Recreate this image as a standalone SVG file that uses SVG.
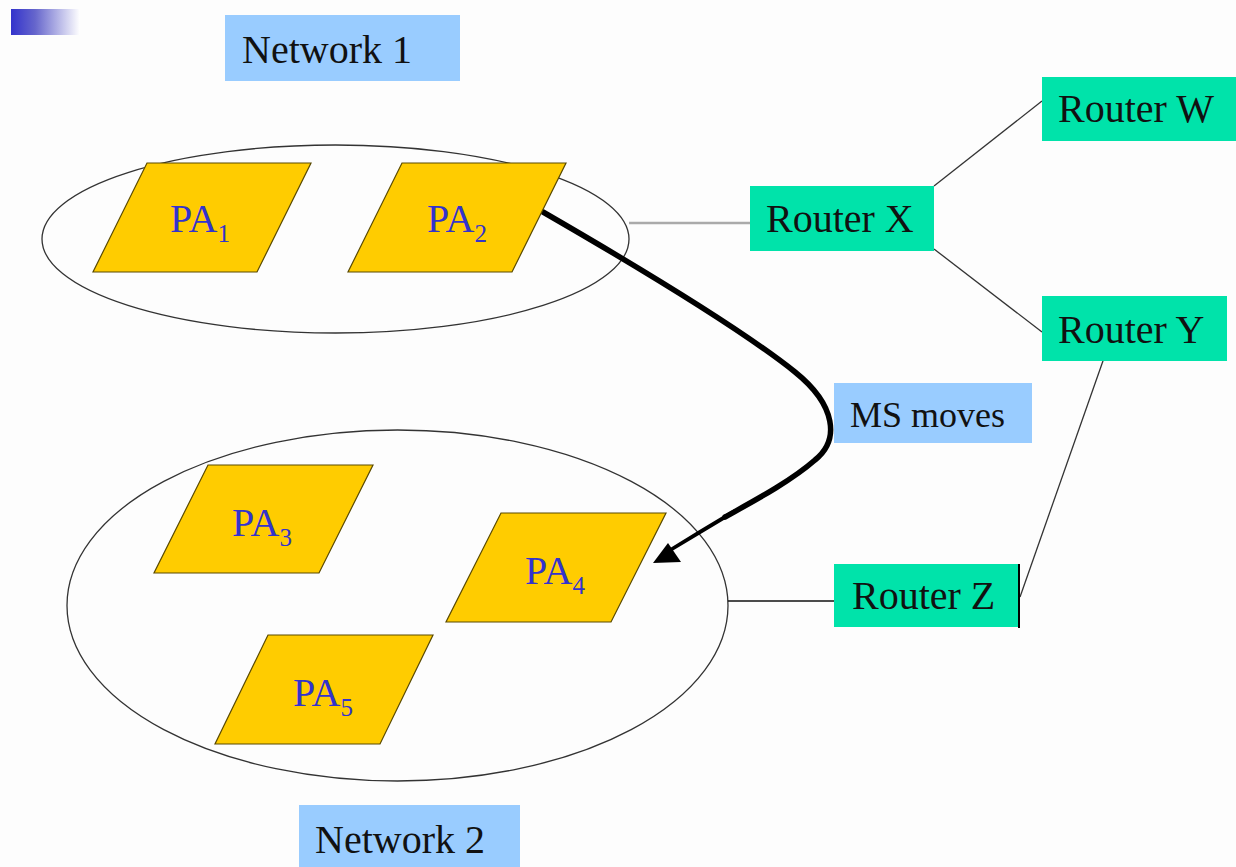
<svg xmlns="http://www.w3.org/2000/svg" width="1236" height="867" viewBox="0 0 1236 867">
<defs>
<linearGradient id="bar" x1="0" y1="0" x2="1" y2="0">
<stop offset="0" stop-color="#3333cc"/>
<stop offset="0.35" stop-color="#6666cc"/>
<stop offset="1" stop-color="#ffffff"/>
</linearGradient>
<style>
.lbl{fill:#99ccff}
.rt{fill:#00e3aa}
.pa{fill:#ffcc00;stroke:#5a4a00;stroke-width:1.2}
.ell{fill:none;stroke:#333;stroke-width:1.3}
.t{font-family:"Liberation Serif","Times New Roman",serif;font-size:40px;fill:#111}
.ms{font-size:36px}
.pt{font-family:"Liberation Serif","Times New Roman",serif;font-size:40px;fill:#3333cc}
.sub{font-size:25px}
.ln{stroke:#333;stroke-width:1.3;fill:none}
</style>
</defs>
<rect width="1236" height="867" fill="#fdfdfd"/>
<rect x="11" y="9" width="69" height="26" fill="url(#bar)"/>

<g id="network1">
<rect class="lbl" x="225" y="15" width="235" height="66"/>
<text class="t" x="242" y="63">Network 1</text>
</g>
<g id="ellipse1"><ellipse class="ell" cx="335.5" cy="239" rx="293.5" ry="94"/></g>
<g id="ellipse2"><ellipse class="ell" cx="397.5" cy="605.5" rx="330.5" ry="175.5"/></g>

<g id="connectors">
<line x1="629" y1="223" x2="750" y2="223" stroke="#aaa" stroke-width="2.5"/>
<line class="ln" x1="934" y1="186" x2="1042" y2="101"/>
<line class="ln" x1="934" y1="249" x2="1042" y2="332"/>
<line class="ln" x1="1104" y1="358" x2="1020" y2="597"/>
<line x1="728" y1="601" x2="834" y2="601" stroke="#111" stroke-width="1.5"/>
<path d="M543,212 C640,268 740,328 795,372 C836,405 840,440 815,460 C790,482 750,503 725,517" fill="none" stroke="#000" stroke-width="5.5" stroke-linecap="round"/>
<path d="M735,511 L700,532 L672,549" fill="none" stroke="#000" stroke-width="3.8" stroke-linecap="round"/>
<polygon points="653,563 668,543 681,562" fill="#000"/>
</g>

<g id="pa1">
<polygon class="pa" points="147,163 311,163 257,272 93,272"/>
<text class="pt" x="170" y="232">PA<tspan class="sub" dy="10">1</tspan></text>
</g>
<g id="pa2">
<polygon class="pa" points="402,163 566,163 512,272 348,272"/>
<text class="pt" x="427" y="232">PA<tspan class="sub" dy="10">2</tspan></text>
</g>
<g id="pa3">
<polygon class="pa" points="208,465 373,465 319,573 154,573"/>
<text class="pt" x="232" y="536">PA<tspan class="sub" dy="10">3</tspan></text>
</g>
<g id="pa4">
<polygon class="pa" points="501,513 666,513 611,622 446,622"/>
<text class="pt" x="525" y="584">PA<tspan class="sub" dy="10">4</tspan></text>
</g>
<g id="pa5">
<polygon class="pa" points="268,635 433,635 380,744 215,744"/>
<text class="pt" x="293" y="706">PA<tspan class="sub" dy="10">5</tspan></text>
</g>

<g id="routerX">
<rect class="rt" x="750" y="186" width="184" height="65"/>
<text class="t" x="766" y="232">Router X</text>
</g>
<g id="routerW">
<rect class="rt" x="1042" y="77" width="194" height="64"/>
<text class="t" x="1058" y="122">Router W</text>
</g>
<g id="routerY">
<rect class="rt" x="1042" y="296" width="185" height="65"/>
<text class="t" x="1058" y="343">Router Y</text>
</g>
<g id="routerZ">
<rect class="rt" x="834" y="564" width="185" height="63"/>
<line x1="1019" y1="564" x2="1019" y2="628" stroke="#000" stroke-width="2"/>
<text class="t" x="852" y="609">Router Z</text>
</g>
<g id="msmoves">
<rect class="lbl" x="834" y="383" width="198" height="60"/>
<text class="t ms" x="850" y="427">MS moves</text>
</g>
<g id="network2">
<rect class="lbl" x="299" y="805" width="221" height="62"/>
<text class="t" x="315" y="853">Network 2</text>
</g>
</svg>
